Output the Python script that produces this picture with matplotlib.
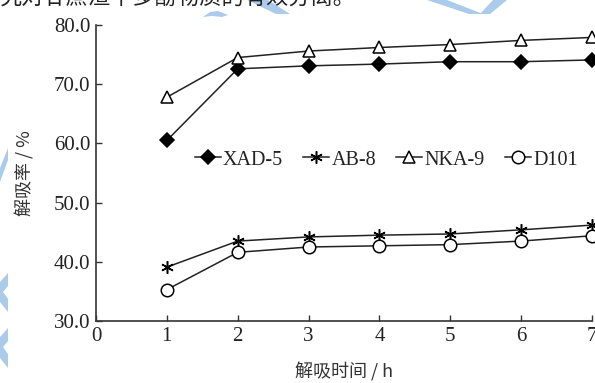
import matplotlib
matplotlib.use("Agg")
import matplotlib.pyplot as plt
from matplotlib.patches import Polygon

plt.rcParams['font.family'] = ['Liberation Serif', 'Noto Sans CJK SC', 'DejaVu Sans']

hours = [1, 2, 3, 4, 5, 6, 7]
xad5 = [60.5, 72.6, 73.1, 73.4, 73.8, 73.8, 74.1]
ab8 = [39.1, 43.5, 44.2, 44.5, 44.7, 45.4, 46.2]
nka9 = [67.8, 74.5, 75.6, 76.2, 76.7, 77.4, 77.9]
d101 = [35.3, 41.6, 42.5, 42.7, 42.9, 43.5, 44.4]

W, H = 595, 383
fig = plt.figure(figsize=(W / 100, H / 100), dpi=100)

# light blue page watermark fragments (pixel coords, y from top)
wm = '#abcbea'
shapes = [
    [(203, 17), (210, 12), (218, 11), (228, 15), (222, 17), (212, 16)],
    [(247, 0), (268, 0), (290, 14), (276, 14)],
    [(427, 0), (447, 0), (483, 14), (469, 14)],
    [(493, 0), (507, 0), (490, 14), (480, 14)],
    [(8, 148), (8, 160), (0, 182), (0, 168)],
    [(8, 273), (8, 286), (3, 292), (8, 299), (8, 312), (0, 302), (0, 282)],
    [(8, 328), (8, 341), (3, 347), (8, 354), (8, 368), (0, 358), (0, 337)],
]
for pts in shapes:
    fig.add_artist(Polygon([(x / W, 1 - y / H) for x, y in pts],
                           closed=True, transform=fig.transFigure,
                           facecolor=wm, edgecolor='none', zorder=0))

# cut-off line of body text above the figure
fig.text(0.0, 1 + 2 / H, '究对甘蔗渣中多酚物质的有效分离。', fontsize=16,
         family=['Noto Sans CJK SC'], color='#222222', ha='left', va='center')

ax = fig.add_axes([96 / W, 62 / H, 496 / W, 296 / H])
ax.patch.set_alpha(0)

lc = '#222222'
kw = dict(color=lc, lw=1.1, markeredgecolor='black', markeredgewidth=1.1, clip_on=False)
ax.plot(hours, xad5, marker='D', ms=7.5, markerfacecolor='black', label='XAD-5', **kw)
ax.plot(hours, ab8, marker=(6, 2, 0), ms=9, label='AB-8', **kw)
ax.plot(hours, nka9, marker='^', ms=9, markerfacecolor='white', label='NKA-9', **kw)
ax.plot(hours, d101, marker='o', ms=9, markerfacecolor='white', label='D101', **kw)

ax.set_xlim(0, 7)
ax.set_ylim(30, 80)
ax.set_xticks(range(0, 8))
ax.set_yticks([30, 40, 50, 60, 70, 80])
ax.set_yticklabels([f'{v:.1f}' for v in [30, 40, 50, 60, 70, 80]])

for s in ['top', 'right']:
    ax.spines[s].set_visible(False)
for s in ['left', 'bottom']:
    ax.spines[s].set_color('#333333')
    ax.spines[s].set_linewidth(1.2)
ax.tick_params(direction='in', length=4, width=1.0, color='#333333',
               labelsize=15, labelcolor='#222222', pad=4)

ax.set_xlabel('解吸时间 / h', fontsize=13, color='#333333', labelpad=12,
              family=['Noto Sans CJK SC', 'Liberation Serif'])
ax.set_ylabel('解吸率 / %', fontsize=13, color='#333333', labelpad=14,
              family=['Noto Sans CJK SC', 'Liberation Serif'])

ax.legend(loc='center', bbox_to_anchor=(0.585, 0.544), ncol=4, frameon=False,
          fontsize=14.5, numpoints=1, handlelength=1.3, handletextpad=0.1,
          columnspacing=1.0, labelcolor='#222222')

fig.savefig('out.png', dpi=100)
